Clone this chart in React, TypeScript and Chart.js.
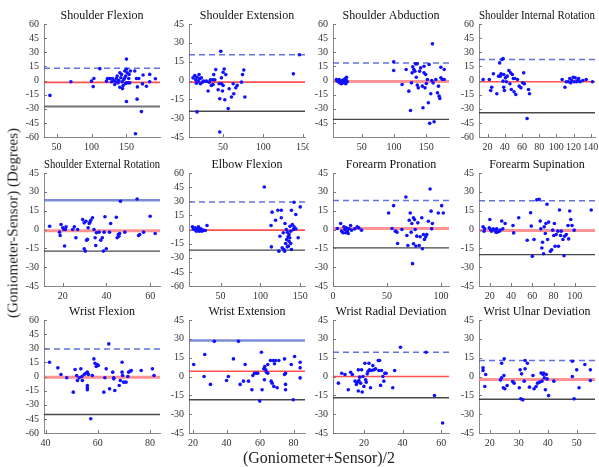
import React, { useEffect, useRef } from 'react';
import { Chart, registerables } from 'chart.js';
Chart.register(...registerables);

// ---------- DATA ----------
const titles = [
  'Shoulder Flexion', 'Shoulder Extension', 'Shoulder Abduction', 'Shoulder Internal Rotation',
  'Shoulder External Rotation', 'Elbow Flexion', 'Forearm Pronation', 'Forearm Supination',
  'Wrist Flexion', 'Wrist Extension', 'Wrist Radial Deviation', 'Wrist Ulnar Deviation',
];
const meanDiff = [-2, -1.3, -1, -1.4, -1, -0.7, 0.8, -0.8, -0.8, 4.2, 0, -2.4];
const upperLoA = [13, 20.5, 18.7, 22.3, 23.3, 29.3, 23, 22.8, 29.3, 28.6, 19.3, 12.8];
const lowerLoA = [-27.5, -24.5, -41.3, -34.3, -17.2, -21.9, -14.6, -20, -40.3, -18.5, -16.9, -18.1];
const upperSolid = [false, false, false, false, true, false, false, false, false, true, false, false];
const meanThick = [false, false, true, false, true, false, true, true, true, false, false, true];
const xMin = [32, 7.5, 5.7, 10, 11.4, 10.4, 0, 9.8, 39.4, 17.6, 4, 16.3];
const xMax = [198, 152, 185, 145, 64.5, 156, 107.4, 119, 83.8, 86.8, 64, 56.3];
const xTicks = [
  [50, 100, 150], [50, 100, 150], [50, 100, 150], [20, 40, 60, 80, 100, 120, 140],
  [20, 40, 60], [50, 100, 150], [0, 50, 100], [20, 40, 60, 80, 100],
  [40, 60, 80], [20, 40, 60, 80], [20, 40, 60], [20, 30, 40, 50],
];
const yLimit = [60, 45, 60, 60, 45, 60, 45, 45, 60, 45, 45, 45];
const yTicks60 = [-60, -45, -30, -15, 0, 15, 30, 45, 60];
const yTicks60NoBottom = [-45, -30, -15, 0, 15, 30, 45, 60];
const yTicks45 = [-45, -30, -15, 0, 15, 30, 45];
const yTickSets = [yTicks60, yTicks45, yTicks60NoBottom, yTicks60, yTicks45, yTicks60, yTicks45, yTicks45, yTicks60, yTicks45, yTicks45, yTicks45];

const shoulderFlexion = [
  [40.5, -15.8], [70.5, -1.4], [100, -0.7], [102.4, -6.5], [103.3, 2.2], [111.9, 12.6], [121.4, -0.7], [122.9, 2.2],
  [126.2, 2.2], [128.6, -1.4], [130, 2.2], [131.9, 0], [133.3, -4.3], [134.8, -1.4], [135.7, 2.2], [136.7, 4.7],
  [138.1, -2.5], [139, 0], [140.5, 8.3], [140.5, -7.2], [141.9, 2.9], [142.9, 6.5], [143.8, -1.4], [144.3, -8.6],
  [145.2, -5.4], [146.2, 1.1], [147.6, 10.1], [147.6, 2.9], [148.6, -3.2], [149, 4.7], [150, 22.7], [150, 11.9],
  [150, -2.5], [151, 8.3], [152.4, -2.5], [153.3, 2.2], [153.8, 6.5], [154.8, -2.5], [155.7, 10.1], [150, -22.3],
  [161.9, 10.1], [164.3, 2.2], [165.2, -19.8], [165.7, -6.8], [167.6, 2.2], [171.4, -33], [172.9, -3.6], [173.8, 5.8],
  [162.9, -56.5], [178.6, -6.1], [183.3, 6.5], [183.3, -1.4], [191.4, 1.8],
];
const shoulderExtension = [
  [145, 20.5], [137.5, 5.3], [47.1, 23.2], [17.5, -25], [45.8, -41], [12.5, 2.1], [14.6, 3.9], [15.8, 0.5],
  [16.7, -2.1], [17.5, 2.6], [18.8, -0.5], [20, 4.7], [20.8, 1.3], [21.7, -2.6], [22.9, 2.1], [24.2, -1.3],
  [25.8, -0.5], [29.2, -0.5], [31.3, -8.4], [32.5, -1.3], [34.2, 0.5], [35.4, -3.9], [37.1, 0.5], [37.5, -3.2],
  [38.3, 4.7], [39.6, 0.5], [40.8, 8.7], [43.8, -7.4], [45, -2.6], [45.8, -14.5], [47.9, -2.6], [47.9, 2.1],
  [49.2, -8.4], [50, -3.9], [50, 6.6], [51.3, 9.2], [52.1, -15.3], [53.3, 4.7], [56.3, -22.4], [57.5, -6.6],
  [60.4, -13.2], [62.5, -2.6], [63.3, -10.5], [65.8, -5.8], [67.5, -3.9], [72.9, -1.3], [74.2, 4.7], [75.8, 8.4],
  [77.1, -13.2],
];
const shoulderAbduction = [
  [10.9, 1.1], [12.5, 0], [13.5, -1.4], [15.1, 1.1], [16.1, -2.5], [17.7, -0.7], [18.75, -3.5], [19.8, 0],
  [21.4, -1.4], [22.4, 1.1], [22.9, -2.5], [24, -0.7], [25, 2.1], [25.5, -3.5], [26.6, 0], [26.6, 3.5], [27.6, -1.4],
  [99.5, 19.8], [99.5, 10.6], [112.5, -4.2], [118.8, 11.7], [122.9, -11.3], [125.5, -31.8], [127, -2.5], [128, 8.1],
  [129, 14.5], [130.7, 11.7], [132.3, 9.9], [133.3, 17.7], [134.4, 3.5], [135.9, 17.7], [135.9, -4.9], [137.5, -7.8],
  [139.6, 9.9], [141.1, 13.4], [143.8, -6], [144.8, -29], [146.4, 8.1], [146.4, 15.2], [147.9, -7.8], [149, 6.4],
  [150, -3.2], [151.6, 1.1], [153.1, -23.7], [154.2, 17], [155.2, -45.5], [156.8, -14.1], [158.3, 0], [159.4, 38.9],
  [160.4, -2.5], [162, -43.8], [164.6, 1.1], [167.2, -13.1], [168.75, -6], [169.8, -16.6], [170.8, -19.1],
  [172.4, 2.8], [172.4, 14.1], [175, 1.1], [177.6, 11.7], [177.6, 1.1],
];
const shoulderInternalRotation = [
  [14.8, 1.1], [22, 1.1], [23.6, -10.6], [24.8, -7.1], [26.8, 7.1], [30.8, -14.1], [32.8, 4.6], [34, 18.7],
  [34.8, 4.6], [35.6, 7.1], [36.8, 22.3], [38, -0.7], [38, 23.3], [38.8, 6.4], [38.8, -7.1], [39.6, -10.6],
  [40.8, 2.8], [42, -1.4], [42.8, 4.6], [44.8, 10.6], [46, -3.5], [46.8, 8.1], [47.6, -9.5], [48.8, 6.4],
  [50, 2.1], [50.8, -12], [51.6, 2.1], [52.8, -14.8], [54.8, 1.1], [56.8, -6], [58.8, -7.8], [60.8, -2.5],
  [62, 8.1], [62.8, -3.5], [66, -40.3], [67.6, -9.5], [68.8, -14.1],
  [106.8, 1.1], [110, -7.1], [111.6, -1.4], [114, -1.4], [115.6, 2.1], [116.8, -2.5], [118, 0], [119.6, 3.5],
  [120.8, -1.4], [122, 2.8], [123.6, -1.4], [124.8, 0], [126, 2.1], [127.6, -1.4], [130.8, 0], [134.8, 1.1], [142, -1.4],
];
const shoulderExternalRotation = [
  [14, 2.6], [18.5, -2.1], [18.8, -4.8], [19.2, 4], [20, 1.3], [20.5, 0], [20.8, -13.2], [21.2, 0], [21.5, 2.1],
  [24.5, 0], [25.3, 2.1], [26, -6.6], [26.8, 0], [29.1, 7.9], [29.8, -15.3], [29.8, 5.3], [30.3, -17.2], [30.6, 6.6],
  [30.9, -8.5], [31.3, -7.9], [31.6, 1.3], [32.1, 4.8], [32.4, 5.8], [32.8, 7.4], [33.6, 9.3], [34.3, 0],
  [34.8, -6.6], [35.1, -12.7], [35.4, -2.6], [36.6, -2.1], [37.4, -8.5], [38.1, -6.6], [38.6, -17.2], [38.9, -2.1],
  [39.3, 10.1], [39.9, -15.3], [41.4, -2.1], [41.9, 4.8], [44.5, 9.8], [44.9, -6.6], [45.4, -4], [45.7, -5.3],
  [46, -3.2], [46.4, 22.5], [48.4, -2.1], [54, 24.3], [54.7, -4.8], [55.2, -4], [57, -2.1], [60, 10.6], [62.3, -3.2],
];
const elbowFlexion = [
  [14.7, 2.8], [16, 0.7], [16.8, 0], [18.1, 1.8], [18.9, -0.7], [19.8, -1.8], [21, 0.7], [22.3, 2.8], [23.2, -1.8],
  [24, 0], [25.3, 0.7], [26.6, -1.8], [28.3, -0.7], [30.9, -1.1], [33, 4.2],
  [104.9, 45.2], [113.4, 4.2], [113.8, -18.4], [114.7, 18.4], [119, 9.9], [121.9, 20.5], [123.2, -23], [124.5, -7.1],
  [126.2, 20.5], [126.2, 12.4], [127.4, -19.4], [128.7, -3.5], [129.6, -21.2], [130.4, -23], [130.9, 6.4],
  [131.7, -14.8], [132.6, 0], [133, -10.6], [133.8, -18.4], [133.8, -2.8], [134.7, -7.8], [135.1, -17.7],
  [136, -12.4], [136, -5.3], [136.8, -8.8], [137.2, 3.5], [138.1, -1.8], [138.1, -14.8], [139, -21.2], [139, 20.5],
  [140.2, 5.3], [141.5, 0], [142.3, 29], [142.3, 2.8], [144.5, 15.9], [144.5, 0.7], [147.4, -8.8], [150, 24],
];
const forearmPronation = [
  [4, 0.8], [7.1, 4.8], [8, -1.3], [9.2, -2.6], [10.1, 2.1], [11, 0], [11.7, -2.6], [12.3, 1.3], [13.2, -1.3],
  [14.1, -3.2], [14.7, 0.5], [16.3, 3.2], [17.2, -0.5], [20.2, 0.5], [22.4, 2.1], [23.9, 1.3], [26.4, -0.5],
  [51.5, 13.2], [54.6, 0.8], [56.1, 19], [57.7, -1.3], [59.2, -2.1], [59.8, -11.1], [63.8, 0], [67.5, 25.9],
  [68.4, -4.8], [69.3, -12.7], [70.6, 7.4], [71.5, 13.2], [72.4, -2.1], [73, 4.8], [73.6, -27.2], [74.5, 9.3],
  [74.5, -11.4], [75.5, 7.9], [76.1, 0], [76.7, -13.2], [77.6, -5.3], [78.5, 5.3], [79.8, -12.7], [80.7, -5.8],
  [82.2, 9.3], [82.8, -15.3], [83.7, -4], [84.7, -7.9], [85.9, -5.8], [86.8, -4], [88.3, 6.6], [89.9, 32.3],
  [90.8, 14.6], [91.4, 0.5], [92, 4.8], [97.5, 13.2], [100.6, 19], [102.1, 13.2],
];
const forearmSupination = [
  [13.6, 2.1], [14.6, -1.3], [15.2, 0.5], [19.4, 1.3], [20, 8], [20.6, 0], [21.6, -1.3], [23.2, 0.5], [24.8, -0.5],
  [25.8, -2.1], [26.4, 0.5], [27, -2.1], [29, -1.3], [29.6, -0.5], [31.2, 6.7], [32.2, 0.5], [34.4, 4.8],
  [41.8, 3.2], [42.4, -2.7], [47.2, 9.4], [55.2, -8.6], [58.4, 13.4], [59, 2.7], [60, -21.4], [61.6, -8],
  [64.2, 23.6], [66.4, 24.1], [67.4, 6.7], [68, 0.5], [69, -14.7], [69.6, -10.2], [70.6, -19.3], [71.2, 2.1],
  [72.2, -3.2], [72.8, 4.8], [73.8, 20.1], [74.4, -8], [75.4, 5.9], [77, -17.4], [78.2, -16.1], [79.2, -0.5],
  [80.2, -4.8], [80.8, 4.8], [81.4, -13.4], [82.4, -4], [84, -1.3], [84.6, -13.4], [85.6, 15.5], [86.6, -4.8],
  [87.2, -1.3], [88.8, -8], [89.8, -20.9], [90.4, -5.4], [92, -4], [93.6, 3.2], [94.2, -7.5], [95.2, 14.7],
  [96.2, 8], [97.4, 3.2], [99.4, -0.5], [115.4, 15.5],
];
const wristFlexion = [
  [41.5, 15.2], [44.7, 9.2], [45.9, 2.1], [48.1, -1.4], [50.6, -16.6], [51.3, 7.4], [51.9, 1.1], [52.2, -4.2],
  [52.9, -1.4], [53.5, 8.1], [53.9, 0], [54.1, -4.2], [54.8, 2.1], [55.4, 3.5], [56, 4.6], [56, -9.5], [56, -12],
  [56, -14.1], [56.4, 2.1], [57.3, -44.9], [57.9, 1.1], [58.5, 18.7], [58.9, 14.1], [59.4, 10.6], [59.8, 12.7],
  [60.2, 11.7], [62.3, -16.6], [62.7, -1.4], [63.2, 8.1], [64.2, 34.6], [64.5, -13.1], [65.7, 4.6], [66.1, -1.4],
  [66.1, -2.5], [66.5, -14.8], [68.2, -9.5], [68.6, -4.2], [69.3, 15.2], [69.3, 4.6], [69.5, 1.1], [69.9, -6],
  [70.8, -6], [71.5, 0], [71.8, 4.6], [72.4, 5.7], [72.8, 6.4], [76.6, 6.4], [80.9, 8.1], [81.5, 1.1],
];
const wristExtension = [
  [20.4, 9.5], [26.6, 0], [27, 17.5], [30.4, -6.3], [32.7, 28], [40, -3.2], [41.1, 0], [44.1, 14], [47.1, 28],
  [48.1, -6.3], [50.1, -3.7], [51.1, 9.5], [53.1, -3.7], [55.1, -10.6], [55.7, 0.8], [56.7, 2.6], [57.8, 2.6],
  [58.6, 2.6], [59.8, -19.6], [60.8, 19.3], [61.2, -10.6], [62.2, 6.1], [62.6, -2.6], [62.8, 7.9], [63.4, 5.3],
  [63.8, 3.4], [64.6, 9.5], [64.6, 2.6], [66.2, 12.7], [66.6, -3.7], [67.2, -5.3], [67.8, 12.7], [68.2, -7.9],
  [68.6, 10.1], [69.2, 12.7], [70.2, -9], [71.2, 12.7], [74.6, 14], [74.6, 1.6], [75.2, 2.6], [75.2, -6.3],
  [75.2, -10.6], [78.6, 9.5], [79.8, -18.5], [80.6, 15.9], [83.9, 11.4], [83.9, 6.9], [83.9, -1.1],
];
const wristRadialDeviation = [
  [6.8, -5.3], [8.5, 2.6], [10.2, 1.6], [11.9, -10.6], [13.1, 3.4], [14, 1.6], [15.4, -3.7], [16.1, -6.3],
  [16.6, -4.5], [17.1, 5.3], [17.1, -11.6], [17.4, -3.2], [17.8, -0.5], [18.3, -5.3], [18.8, 5.3], [19.1, -12.4],
  [19.5, 0], [20, -7.9], [20.5, 10.6], [20.9, -2.6], [21.2, -4.5], [21.7, 2.1], [22.2, 4.2], [22.6, 10.6],
  [22.9, 5.3], [23.4, -9], [23.9, 4.8], [24.6, 8.7], [25.1, 5.3], [26, 6.1], [27.4, 12.7], [27.7, 4.8],
  [28.1, 12.7], [28.6, -7.1], [29.1, 4.8], [29.8, 0], [30.3, -3.7], [30.8, 2.6], [31.5, 2.6], [34.9, -9],
  [35.9, 4.8], [38.9, 23.3], [52.1, 19.3], [56.5, -15.1], [60.7, -37],
];
const wristUlnarDeviation = [
  [17.7, 6.9], [17.7, 4.8], [18.3, -8], [18.6, 1.6], [23.7, -2.7], [24.1, 10.6], [24.1, -1.1], [24.7, -9],
  [24.9, 0.8], [25, 14.1], [25.2, -9.8], [26, -7.2], [27.9, -4], [28.4, -5.3], [30.2, -9], [30.5, 5.3],
  [30.7, -17.8], [31, 2.1], [31.4, -18.6], [31.9, -3.7], [32.2, 6.1], [32.2, 12.8], [33, 10.6], [33.7, -8.5],
  [34.9, 0.8], [35.3, -9.8], [36, -8], [36.5, -5.3], [37.2, -4.5], [37.7, 2.7], [38, -3.7], [38.4, 1.6],
  [38.6, 2.7], [38.8, -1.1], [39.2, -10.6], [39.5, 1.6], [39.8, -1.9], [40.3, -15.2], [42.1, -3.7],
  [48.5, 12.2], [48.5, 0], [49.1, -17.8], [50, 5.3], [50.8, -9], [52.8, 9.6], [54.7, 5.3], [54.7, -3.2],
];
const panelPoints = [
  shoulderFlexion, shoulderExtension, shoulderAbduction, shoulderInternalRotation,
  shoulderExternalRotation, elbowFlexion, forearmPronation, forearmSupination,
  wristFlexion, wristExtension, wristRadialDeviation, wristUlnarDeviation,
];

// ---------- LAYOUT ----------
const colLeft = [44, 189, 333, 479];
const rowTop = [24, 173, 320];
const plotW = 116;
const plotH = 113;
const YW = 30; // y-axis area
const TH = 17; // title block
const XH = 17; // x-axis area
const PR = 4;  // right padding
const FONT = "'Liberation Serif', 'Times New Roman', serif";

const inwardTicks = {
  id: 'inwardTicks',
  afterDraw(chart: any) {
    const ctx = chart.ctx;
    const xs = chart.scales.x;
    const ys = chart.scales.y;
    const area = chart.chartArea;
    ctx.save();
    ctx.strokeStyle = '#777';
    ctx.lineWidth = 1;
    xs.ticks.forEach((t: any) => {
      const px = Math.round(xs.getPixelForValue(t.value)) + 0.5;
      ctx.beginPath();
      ctx.moveTo(px, area.bottom);
      ctx.lineTo(px, area.bottom - 3);
      ctx.stroke();
    });
    ys.ticks.forEach((t: any) => {
      const py = Math.round(ys.getPixelForValue(t.value)) + 0.5;
      ctx.beginPath();
      ctx.moveTo(area.left, py);
      ctx.lineTo(area.left + 3, py);
      ctx.stroke();
    });
    ctx.restore();
  },
};

function Panel({ idx }: { idx: number }) {
  const ref = useRef<HTMLCanvasElement>(null);
  useEffect(() => {
    const canvas = ref.current!;
    const x0 = xMin[idx];
    const x1 = xMax[idx];
    const hline = (v: number) => [{ x: x0, y: v }, { x: x1, y: v }];
    const solid = upperSolid[idx];
    const thick = meanThick[idx];
    const chart = new Chart(canvas, {
      type: 'scatter',
      data: {
        datasets: [
          {
            data: panelPoints[idx].map(([x, y]) => ({ x, y })),
            backgroundColor: '#1010ff',
            borderColor: '#1010ff',
            pointRadius: 1.8,
            pointBorderWidth: 0,
          },
          {
            type: 'line',
            data: hline(upperLoA[idx]),
            borderColor: solid ? 'rgba(100,120,210,0.85)' : 'rgba(70,90,215,0.85)',
            borderWidth: solid ? 2.5 : 1.5,
            borderDash: solid ? [] : [6, 4],
            pointRadius: 0,
            showLine: true,
          } as any,
          {
            type: 'line',
            data: hline(meanDiff[idx]),
            borderColor: thick ? 'rgba(255,110,110,0.75)' : 'rgba(255,50,50,0.85)',
            borderWidth: thick ? 3 : 1.6,
            pointRadius: 0,
            showLine: true,
          } as any,
          {
            type: 'line',
            data: hline(lowerLoA[idx]),
            borderColor: idx === 0 ? 'rgba(100,100,100,0.9)' : 'rgba(40,40,40,0.85)',
            borderWidth: idx === 0 ? 2 : 1.4,
            pointRadius: 0,
            showLine: true,
          } as any,
        ],
      },
      options: {
        animation: false,
        responsive: false,
        devicePixelRatio: 1,
        events: [],
        layout: { padding: { left: 0, right: PR, top: 0, bottom: 0 } },
        plugins: {
          legend: { display: false },
          tooltip: { enabled: false },
          title: {
            display: true,
            fullSize: false,
            text: titles[idx],
            color: '#111',
            font: { family: FONT, size: 12, weight: 'normal', lineHeight: 1.25 },
            padding: { top: 1, bottom: 1 },
          },
        },
        scales: {
          x: {
            type: 'linear',
            min: x0,
            max: x1,
            afterBuildTicks: (s: any) => { s.ticks = xTicks[idx].map((v) => ({ value: v })); },
            afterFit: (s: any) => { s.height = XH; s.paddingLeft = 0; s.paddingRight = 0; },
            grid: { display: false, drawTicks: false },
            border: { display: true, color: '#888', width: 1 },
            ticks: {
              autoSkip: false, maxRotation: 0, minRotation: 0, padding: 4,
              color: '#333', font: { family: FONT, size: 10 },
              callback: (v: any) => String(v),
            },
          },
          y: {
            type: 'linear',
            min: -yLimit[idx],
            max: yLimit[idx],
            afterBuildTicks: (s: any) => { s.ticks = yTickSets[idx].map((v) => ({ value: v })); },
            afterFit: (s: any) => { s.width = YW; s.paddingTop = 0; s.paddingBottom = 0; },
            grid: { display: false, drawTicks: false },
            border: { display: true, color: '#888', width: 1 },
            ticks: {
              autoSkip: false, padding: 5,
              color: '#333', font: { family: FONT, size: 10 },
              callback: (v: any) => String(v),
            },
          },
        },
      },
      plugins: [inwardTicks],
    } as any);
    return () => chart.destroy();
  }, [idx]);
  const col = idx % 4;
  const row = Math.floor(idx / 4);
  const left = colLeft[col] - YW;
  const top = rowTop[row] - TH;
  const w = YW + plotW + PR;
  const h = TH + plotH + XH;
  return (
    <canvas
      ref={ref}
      width={w}
      height={h}
      style={{ position: 'absolute', left, top, width: w, height: h }}
    />
  );
}

export default function App() {
  return (
    <div style={{ position: 'absolute', left: 0, top: 0, width: 599, height: 467, background: '#fff', overflow: 'hidden', fontFamily: FONT }}>
      {titles.map((_, i) => <Panel key={i} idx={i} />)}
      <div
        style={{
          position: 'absolute', left: 13, top: 223, transform: 'translate(-50%, -50%) rotate(-90deg)',
          whiteSpace: 'nowrap', fontSize: 15, color: '#222',
        }}
      >
        (Goniometer-Sensor) (Degrees)
      </div>
      <div
        style={{
          position: 'absolute', left: 319, top: 458, transform: 'translate(-50%, -50%)',
          whiteSpace: 'nowrap', fontSize: 16, color: '#222',
        }}
      >
        (Goniometer+Sensor)/2
      </div>
    </div>
  );
}
